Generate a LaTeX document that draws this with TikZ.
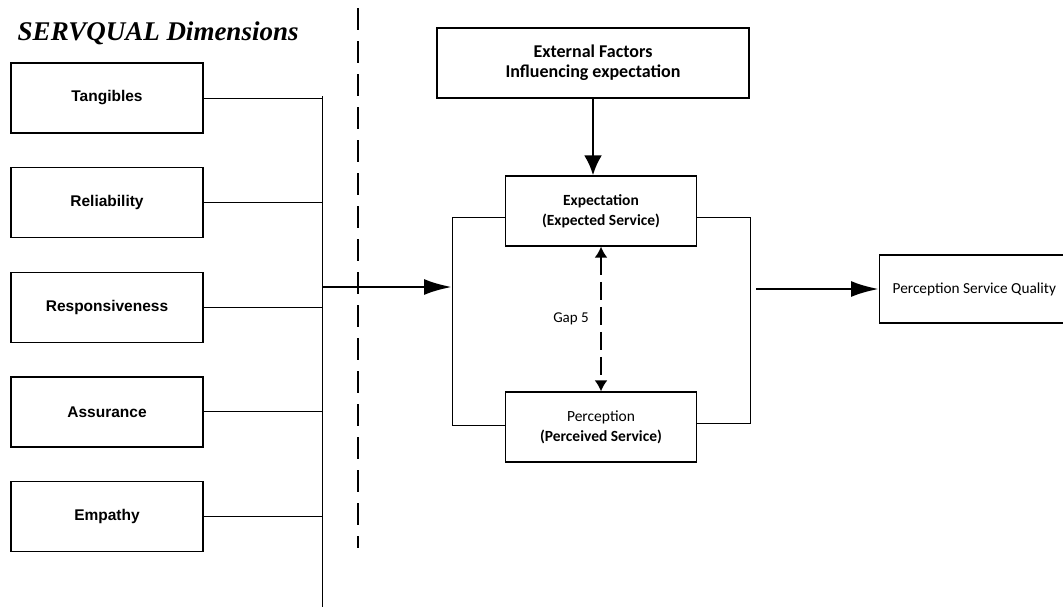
\documentclass[tikz,border=0pt]{standalone}
\usepackage{fontspec}
\setmainfont{Carlito}
\newfontfamily\arialfont{Liberation Sans}
\newfontfamily\timesfont{Liberation Serif}
\usetikzlibrary{positioning,arrows.meta}

\begin{document}
\begin{tikzpicture}[x=1pt, y=-1pt, node distance={33.2pt}, thick,
  dim/.style={draw, line width=1.4pt, minimum width=192pt, minimum height=70pt,
    font=\arialfont\bfseries\fontsize{15.5}{18}\selectfont},
  fbox/.style={draw, line width=1.3pt, minimum width=191pt, minimum height=70pt,
    align=center, font=\fontsize{15.5}{20}\selectfont},
  link/.style={line width=0.9pt},
  bigarrow/.style={line width=2.8pt, -{Latex[length=28pt,width=16pt]}},
  gaparrow/.style={line width=1.8pt, dash pattern=on 18pt off 7pt,
    {Latex[length=11pt,width=13pt]}-{Latex[length=11pt,width=13pt]}}]
  \useasboundingbox (0,0) rectangle (1063,611);

  % left column: SERVQUAL dimensions
  \node[anchor=west, font=\timesfont\bfseries\itshape\fontsize{27}{30}\selectfont] (title) at (14,33) {SERVQUAL Dimensions};
  \node[dim] (tang) at (107,98) {Tangibles};
  \node[dim, below=of tang] (rel) {Reliability};
  \node[dim, below=of rel] (resp) {Responsiveness};
  \node[dim, below=of resp] (assu) {Assurance};
  \node[dim, below=of assu] (emp) {Empathy};

  \coordinate (spinetop) at (322,96);
  \coordinate (spinebot) at (322,607);
  \draw[link] (spinetop) -- (spinebot);
  \foreach \d in {tang,rel,resp,assu,emp}
    \draw[link] (\d.east) -- (\d.east -| spinetop);

  % separator
  \coordinate (septop) at (358,8);
  \coordinate (sepbot) at (358,548);
  \draw[line width=1.3pt, dash pattern=on 22pt off 11pt] (septop) -- (sepbot);

  % expectation / perception
  \node[fbox, minimum width=312pt, font=\bfseries\fontsize{18}{20}\selectfont] (ext) at (593,63) {External Factors\\Influencing expectation};
  \node[fbox, font=\bfseries\fontsize{15.5}{20}\selectfont] (exp) at (601,211) {Expectation\\(Expected Service)};
  \node[fbox] (perc) at (601,427) {Perception\\\textbf{(Perceived Service)}};
  \node[draw, line width=1.3pt, anchor=west, inner xsep=13pt, minimum height=68pt,
    font=\fontsize{15.3}{18}\selectfont] (psq) at (879,289) {Perception Service Quality};

  \draw[bigarrow, -{Latex[length=20pt,width=18pt]}] (ext.south) -- (ext.south |- exp.north);
  \draw[gaparrow] (exp.south) -- (perc.north) node[midway, left=8pt, font=\fontsize{15}{18}\selectfont] (gap) {Gap 5};

  \coordinate (lbtop) at (452,217);
  \coordinate (lbbot) at (452,425);
  \coordinate (rbtop) at (750,217);
  \coordinate (rbbot) at (750,423);
  \draw[link] (exp.west |- lbtop) -- (lbtop) -- (lbbot) -- (perc.west |- lbbot);
  \draw[link] (exp.east |- rbtop) -- (rbtop) -- (rbbot) -- (perc.east |- rbbot);

  \coordinate (injoin) at (322,287);
  \coordinate (outstart) at (756,289);
  \draw[bigarrow] (injoin) -- (injoin -| lbtop);
  \draw[bigarrow] (outstart) -- (psq.west);
\end{tikzpicture}
\end{document}
